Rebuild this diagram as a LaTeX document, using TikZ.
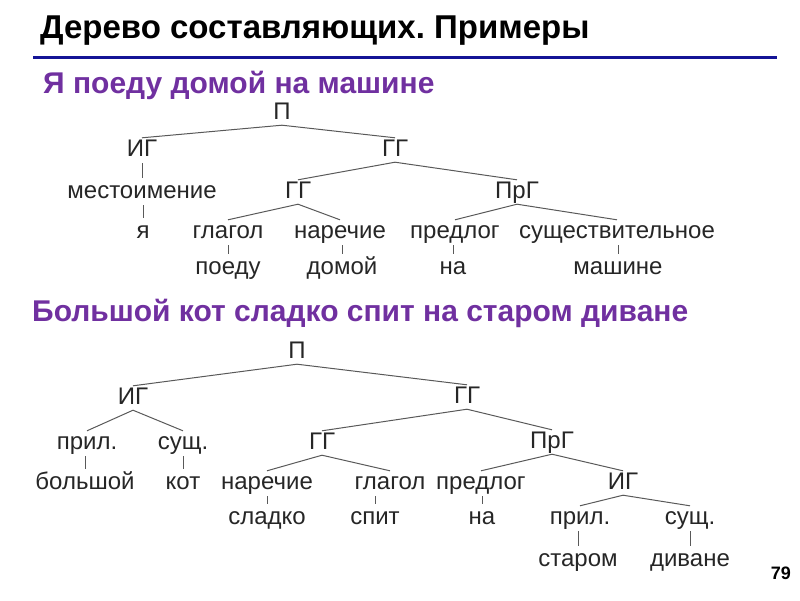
\documentclass[tikz,border=0pt]{standalone}
\usepackage{fontspec}
\setmainfont{Liberation Sans}
\usepackage{tikz}
\frenchspacing

\definecolor{slideblue}{RGB}{20,20,150}
\definecolor{slidepurple}{RGB}{112,48,160}

\begin{document}
\begin{tikzpicture}[x=1pt,y=-1pt,
  lbl/.style={font=\fontsize{24}{28}\selectfont,text=black!85,inner sep=1pt,text height=17pt,text depth=5pt},
  br/.style={draw=black!65,line width=1pt},
  tick/.style={draw=black!65,line width=1pt,shorten <=1pt,shorten >=2pt},
  head/.style={font=\bfseries\fontsize{30}{34}\selectfont,text=slidepurple,inner sep=0pt,anchor=base west}]
\useasboundingbox (0,0) rectangle (800,600);
\node[font=\bfseries\fontsize{33}{38}\selectfont,inner sep=0pt,anchor=base west] (title) at (40,38) {Дерево составляющих. Примеры};
\draw[slideblue,line width=3pt] (33,57) -- (777,57);
\node[head] (sub1) at (43,93) {Я поеду домой на машине};
\node[head] (sub2) at (32,321) {Большой кот сладко спит на старом диване};
\node[font=\bfseries\fontsize{18}{22}\selectfont,inner sep=0pt,anchor=base east] (pgno) at (791,579) {79};
\node[lbl] (a0) at (282,113) {П};
\node[lbl] (a1) at (142,150) {ИГ};
\node[lbl] (a2) at (395,150) {ГГ};
\node[lbl] (a3) at (142,192) {местоимение};
\node[lbl] (a4) at (298,192) {ГГ};
\node[lbl] (a5) at (517,192) {ПрГ};
\node[lbl] (a6) at (143,232) {я};
\node[lbl] (a7) at (228,232) {глагол};
\node[lbl] (a8) at (340,232) {наречие};
\node[lbl] (a9) at (455,232) {предлог};
\node[lbl] (a10) at (617,232) {существительное};
\node[lbl] (a11) at (228,268) {поеду};
\node[lbl] (a12) at (342,268) {домой};
\node[lbl] (a13) at (453,268) {на};
\node[lbl] (a14) at (618,268) {машине};
\draw[br] (a0.south) -- (a1.north);
\draw[br] (a0.south) -- (a2.north);
\draw[br] (a2.south) -- (a4.north);
\draw[br] (a2.south) -- (a5.north);
\draw[br] (a4.south) -- (a7.north);
\draw[br] (a4.south) -- (a8.north);
\draw[br] (a5.south) -- (a9.north);
\draw[br] (a5.south) -- (a10.north);
\draw[tick] (a1.south -| a3.north) -- (a3.north);
\draw[tick] (a3.south -| a6.north) -- (a6.north);
\draw[tick] (a7.south -| a11.north) -- (a11.north);
\draw[tick] (a8.south -| a12.north) -- (a12.north);
\draw[tick] (a9.south -| a13.north) -- (a13.north);
\draw[tick] (a10.south -| a14.north) -- (a14.north);
\node[lbl] (b0) at (297,352) {П};
\node[lbl] (b1) at (133,398) {ИГ};
\node[lbl] (b2) at (467,397) {ГГ};
\node[lbl] (b3) at (87,443) {прил.};
\node[lbl] (b4) at (183,443) {сущ.};
\node[lbl] (b5) at (322,443) {ГГ};
\node[lbl] (b6) at (552,442) {ПрГ};
\node[lbl] (b7) at (85,483) {большой};
\node[lbl] (b8) at (183,483) {кот};
\node[lbl] (b9) at (267,483) {наречие};
\node[lbl] (b10) at (390,483) {глагол};
\node[lbl] (b11) at (481,483) {предлог};
\node[lbl] (b12) at (623,483) {ИГ};
\node[lbl] (b13) at (267,518) {сладко};
\node[lbl] (b14) at (375,518) {спит};
\node[lbl] (b15) at (482,518) {на};
\node[lbl] (b16) at (580,518) {прил.};
\node[lbl] (b17) at (690,518) {сущ.};
\node[lbl] (b18) at (578,560) {старом};
\node[lbl] (b19) at (690,560) {диване};
\draw[br] (b0.south) -- (b1.north);
\draw[br] (b0.south) -- (b2.north);
\draw[br] (b1.south) -- (b3.north);
\draw[br] (b1.south) -- (b4.north);
\draw[br] (b2.south) -- (b5.north);
\draw[br] (b2.south) -- (b6.north);
\draw[br] (b5.south) -- (b9.north);
\draw[br] (b5.south) -- (b10.north);
\draw[br] (b6.south) -- (b11.north);
\draw[br] (b6.south) -- (b12.north);
\draw[br] (b12.south) -- (b16.north);
\draw[br] (b12.south) -- (b17.north);
\draw[tick] (b3.south -| b7.north) -- (b7.north);
\draw[tick] (b4.south -| b8.north) -- (b8.north);
\draw[tick] (b9.south -| b13.north) -- (b13.north);
\draw[tick] (b10.south -| b14.north) -- (b14.north);
\draw[tick] (b11.south -| b15.north) -- (b15.north);
\draw[tick] (b16.south -| b18.north) -- (b18.north);
\draw[tick] (b17.south -| b19.north) -- (b19.north);
\end{tikzpicture}
\end{document}
